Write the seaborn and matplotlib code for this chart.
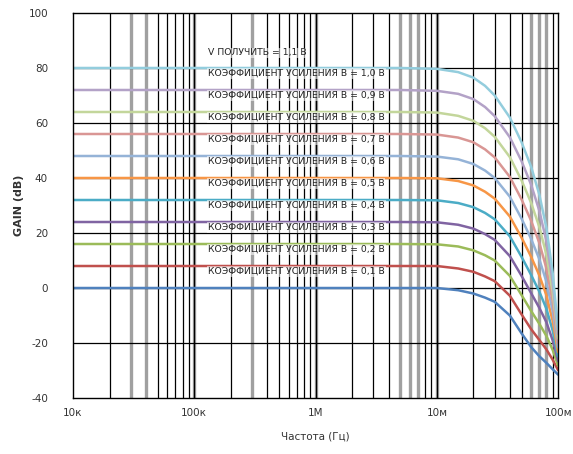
import numpy as np
import pandas as pd
import matplotlib
matplotlib.use("Agg")
import matplotlib.pyplot as plt
import seaborn as sns

freqs = [1e4, 1e6, 5e6, 1e7, 1.5e7, 2e7, 2.5e7, 3e7, 4e7, 5e7, 6e7, 7e7, 8e7, 9e7, 1e8]
g00 = [0, 0, 0, 0, -0.8, -2, -3.5, -5, -10, -16.5, -21.5, -24.8, -27.2, -29.5, -31.5]
g08 = [8, 8, 8, 8, 7.1, 5.9, 4.2, 2.5, -2.8, -9.6, -15, -18.9, -22.3, -26, -29.9]
g16 = [16, 16, 16, 15.9, 15.1, 13.7, 11.9, 10, 4.4, -2.6, -8.4, -13, -17.4, -22.4, -28.2]
g24 = [24, 24, 24, 23.9, 23, 21.6, 19.6, 17.5, 11.6, 4.4, -1.9, -7.2, -12.4, -18.9, -26.6]
g32 = [32, 32, 32, 31.9, 30.9, 29.4, 27.3, 25, 18.8, 11.3, 4.7, -1.3, -7.5, -15.3, -24.9]
g40 = [40, 40, 40, 39.9, 38.9, 37.3, 35, 32.5, 26, 18.3, 11.3, 4.6, -2.6, -11.8, -23.3]
g48 = [48, 48, 48, 47.8, 46.8, 45.1, 42.7, 40, 33.2, 25.2, 17.8, 10.5, 2.3, -8.2, -21.6]
g56 = [56, 56, 56, 55.8, 54.7, 53, 50.4, 47.5, 40.4, 32.2, 24.4, 16.4, 7.2, -4.7, -20]
g64 = [64, 64, 64, 63.8, 62.6, 60.8, 58.1, 55, 47.6, 39.1, 30.9, 22.2, 12.2, -1.1, -18.3]
g72 = [72, 72, 72, 71.7, 70.6, 68.7, 65.8, 62.5, 54.8, 46.1, 37.5, 28.1, 17.1, 2.5, -16.7]
g80 = [80, 80, 80, 79.7, 78.5, 76.5, 73.5, 70, 62, 53, 44, 34, 22, 6, -15]

series_names = ["0 dB", "8 dB", "16 dB", "24 dB", "32 dB", "40 dB", "48 dB",
                "56 dB", "64 dB", "72 dB", "80 dB"]
series_vals = [g00, g08, g16, g24, g32, g40, g48, g56, g64, g72, g80]
colors = ["#4F81BD", "#C0504D", "#9BBB59", "#8064A2", "#4BACC6", "#F79646",
          "#95B3D7", "#D99694", "#C3D69B", "#B3A2C7", "#93CDDD"]

label_texts = ["V ПОЛУЧИТЬ = 1,1 В",
               "КОЭФФИЦИЕНТ УСИЛЕНИЯ В = 1,0 В",
               "КОЭФФИЦИЕНТ УСИЛЕНИЯ В = 0,9 В",
               "КОЭФФИЦИЕНТ УСИЛЕНИЯ В = 0,8 В",
               "КОЭФФИЦИЕНТ УСИЛЕНИЯ В = 0,7 В",
               "КОЭФФИЦИЕНТ УСИЛЕНИЯ В = 0,6 В",
               "КОЭФФИЦИЕНТ УСИЛЕНИЯ В = 0,5 В",
               "КОЭФФИЦИЕНТ УСИЛЕНИЯ В = 0,4 В",
               "КОЭФФИЦИЕНТ УСИЛЕНИЯ В = 0,3 В",
               "КОЭФФИЦИЕНТ УСИЛЕНИЯ В = 0,2 В",
               "КОЭФФИЦИЕНТ УСИЛЕНИЯ В = 0,1 В"]
label_y = [85.5, 78, 70, 62, 54, 46, 38, 30, 22, 14, 6]

xticks = [1e4, 1e5, 1e6, 1e7, 1e8]
xticklabels = ["10к", "100к", "1M", "10м", "100м"]
yticks = [-40, -20, 0, 20, 40, 60, 80, 100]

rows = []
for name, vals in zip(series_names, series_vals):
    for f, v in zip(freqs, vals):
        rows.append({"freq": f, "gain": v, "series": name})
df = pd.DataFrame(rows)

sns.set_theme(style="white")
plt.rcParams['font.family'] = ['DejaVu Sans']
plt.rcParams['axes.unicode_minus'] = False

fig = plt.figure(figsize=(5.73, 4.54), dpi=100)
ax = fig.add_axes([0.1274, 0.1233, 0.8466, 0.8481])
ax.set_xscale("log")
ax.set_xlim(1e4, 1e8)
ax.set_ylim(-40, 100)

# grid
gray_minor = {0: [3, 4], 1: [3], 2: [5, 6, 7], 3: [6, 7, 8]}
for d in range(4):
    base = 10 ** (4 + d)
    for m in range(2, 10):
        x = base * m
        if m in gray_minor[d]:
            ax.axvline(x, color="#a0a0a0", lw=2.4, zorder=0.5)
        else:
            ax.axvline(x, color="black", lw=0.9, zorder=0.6)
for d in range(1, 4):
    x = 10 ** (4 + d)
    ax.axvline(x, color="#a0a0a0", lw=2.4, zorder=0.5)
    ax.axvline(x, color="black", lw=0.9, zorder=0.6)
for y in [-20, 0, 20, 40, 60, 80]:
    ax.axhline(y, color="black", lw=0.9, zorder=0.6)

sns.lineplot(data=df, x="freq", y="gain", hue="series", palette=colors,
             hue_order=series_names, legend=False, lw=1.8, ax=ax, zorder=2)

for txt, y in zip(label_texts, label_y):
    ax.text(1.3e5, y, txt, fontsize=6.7, color="#222222", va="center", ha="left",
            zorder=3, bbox=dict(boxstyle="square,pad=0.08", fc="white", ec="none", alpha=0.55))

ax.set_xticks(xticks)
ax.set_xticklabels(xticklabels)
ax.set_yticks(yticks)
ax.minorticks_off()
ax.tick_params(axis="x", labelsize=7.5, colors="#333333", length=0, pad=7)
ax.tick_params(axis="y", labelsize=7.5, colors="#333333", length=0, pad=18)
for s in ax.spines.values():
    s.set_color("black")
    s.set_linewidth(1.0)
ax.set_xlabel("Частота (Гц)", fontsize=7.5, color="#333333", labelpad=10)
ax.set_ylabel("GAIN (dB)", fontsize=8, fontweight="bold", color="#333333", labelpad=3)

fig.savefig("out.png", dpi=100)
